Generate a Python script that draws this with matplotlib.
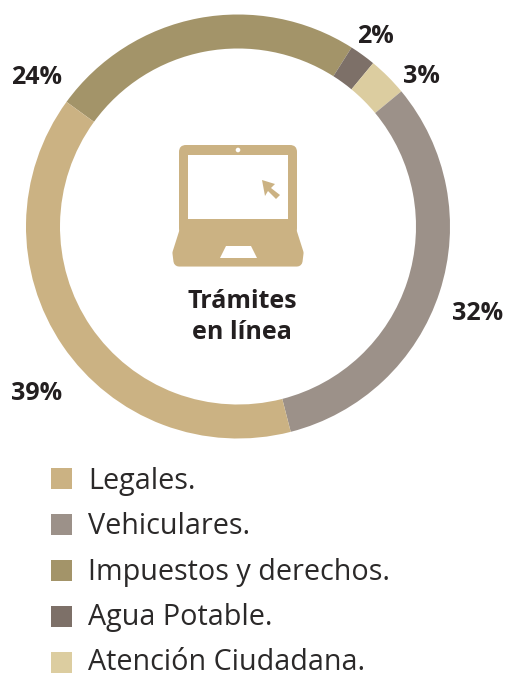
import matplotlib
matplotlib.use("Agg")
import matplotlib.pyplot as plt
from matplotlib.patches import FancyBboxPatch, Polygon, Rectangle, Circle

categories = ["Legales.", "Vehiculares.", "Impuestos y derechos.", "Agua Potable.", "Atención Ciudadana."]
values = [39, 32, 24, 2, 3]
colors = ["#CBB283", "#9C9189", "#A39469", "#7D7068", "#DCCDA0"]
ring_order = [2, 3, 4, 1, 0]
pct_labels = ["24%", "2%", "3%", "32%", "39%"]
title_lines = ["Trámites", "en línea"]

W, H = 505, 673
fig = plt.figure(figsize=(W/100, H/100), dpi=100)
ax = fig.add_axes([0, 0, 1, 1])
ax.set_xlim(0, W); ax.set_ylim(H, 0); ax.set_aspect("equal"); ax.axis("off")
font = "Open Sans"
cx, cy, R = 238, 226.5, 212
vals = [values[i] for i in ring_order]
cols = [colors[i] for i in ring_order]
pie_ax = fig.add_axes([(cx-R)/W, 1-(cy+R)/H, 2*R/W, 2*R/H])
pie_ax.pie(vals, colors=cols, startangle=144, counterclock=False, radius=1,
           wedgeprops=dict(width=34/R, linewidth=0))
pie_ax.set_xlim(-1, 1); pie_ax.set_ylim(-1, 1)

for t, x, y in zip(pct_labels, [37, 375.5, 421.5, 477.5, 37], [84, 43, 83, 320, 400]):
    ax.text(x, y, t, ha="center", va="baseline", fontsize=18, fontweight="bold", color="#231F20", family=font)
for t, y in zip(title_lines, [308, 339]):
    ax.text(242, y, t, ha="center", va="baseline", fontsize=18, fontweight="bold", color="#231F20", family=font)

c = colors[0]
ax.add_patch(FancyBboxPatch((179, 145), 118, 90, boxstyle="round,pad=0,rounding_size=7", fc=c, ec="none"))
ax.add_patch(Rectangle((188, 155), 100, 64, fc="white", ec="none"))
ax.add_patch(Circle((238, 150), 2.3, fc="white", ec="none"))
ax.add_patch(Rectangle((179, 219), 118, 9, fc=c, ec="none"))
ax.add_patch(Polygon([(185, 231), (291, 231), (298, 253), (297, 261), (179, 261), (178, 253)], closed=True,
                     fc=c, ec=c, lw=8, joinstyle="round"))
ax.add_patch(Polygon([(226, 246), (251, 246), (257, 258), (220, 258)], closed=True, fc="white", ec="none"))
ax.add_patch(Polygon([(262, 180), (275, 184), (271, 188), (280, 195), (276, 199), (268, 191), (265, 196)], closed=True, fc=c, ec="none"))

for i, (name, col) in enumerate(zip(categories, colors)):
    top = 468 + i*46
    ax.add_patch(Rectangle((51, top), 21, 21, fc=col, ec="none"))
    ax.text(88, 489 + i*45.3, name, ha="left", va="baseline", fontsize=20.7, color="#2B2929", family=font)

fig.savefig("out.png", dpi=100)
